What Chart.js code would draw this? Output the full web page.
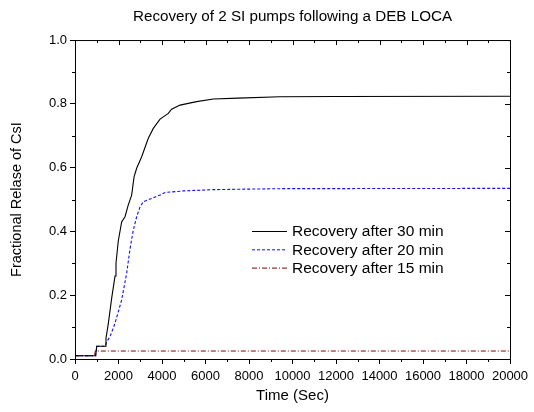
<!DOCTYPE html>
<html>
<head>
<meta charset="utf-8">
<script src="https://cdn.jsdelivr.net/npm/chart.js@4.4.1/dist/chart.umd.min.js"></script>
<style>
  html, body { margin: 0; padding: 0; background: #fff; }
  #wrap { width: 534px; height: 412px; position: relative; }
</style>
</head>
<body>
<div id="wrap"><canvas id="csi"></canvas></div>
<script>
// -------------------------
// Data (time in s, fractional release)
// -------------------------
const labels = ["Recovery after 30 min", "Recovery after 20 min", "Recovery after 15 min"];

const time30 = [0, 950, 1000, 1380, 1425, 1530, 1685, 1840, 1885, 1990, 2145, 2300, 2450, 2605, 2715, 2835, 3065, 3370, 3600, 3910, 4290, 4440, 4830, 5590, 6360, 7500, 9425, 12000, 20000];
const frac30 = [0.01, 0.01, 0.04, 0.04, 0.065, 0.11, 0.19, 0.26, 0.30, 0.37, 0.43, 0.446, 0.483, 0.514, 0.571, 0.598, 0.634, 0.692, 0.723, 0.752, 0.770, 0.783, 0.796, 0.807, 0.815, 0.818, 0.822, 0.823, 0.824];

const time20 = [0, 950, 1000, 1380, 1455, 1610, 1840, 2145, 2375, 2530, 2605, 2680, 2835, 2990, 3140, 3910, 4140, 5000, 6360, 9425, 20000];
const frac20 = [0.01, 0.01, 0.04, 0.04, 0.054, 0.070, 0.112, 0.185, 0.269, 0.345, 0.375, 0.404, 0.446, 0.477, 0.493, 0.514, 0.522, 0.527, 0.531, 0.534, 0.535];

const time15 = [0, 900, 930, 20000];
const frac15 = [0.01, 0.01, 0.025, 0.025];

const xTicks = [0, 2000, 4000, 6000, 8000, 10000, 12000, 14000, 16000, 18000, 20000];
const yTicks = [0.0, 0.2, 0.4, 0.6, 0.8, 1.0];

const FONT = "'Liberation Sans', Arial, sans-serif";

const pts = (t, v) => t.map((x, i) => ({ x, y: v[i] }));

// -------------------------
// Frame, minor ticks, inner ticks on top/right, legend
// -------------------------
const framePlugin = {
  id: "frame",
  afterDraw(chart) {
    const { ctx, chartArea: a, scales: { x, y } } = chart;
    ctx.save();
    ctx.strokeStyle = "#000";
    ctx.lineWidth = 1;
    ctx.strokeRect(a.left + 0.5, a.top + 0.5, a.right - a.left, a.bottom - a.top);

    ctx.beginPath();
    // x: major every 2000, minor every 1000
    for (let v = 0; v <= 20000; v += 1000) {
      const px = Math.round(x.getPixelForValue(v)) + 0.5;
      const major = v % 2000 === 0;
      if (!major) { ctx.moveTo(px, a.bottom); ctx.lineTo(px, a.bottom + 3); }
      ctx.moveTo(px, a.top); ctx.lineTo(px, a.top + (major ? 5 : 3));
    }
    // y: major every 0.2, minor every 0.1
    for (let k = 0; k <= 10; k++) {
      const py = Math.round(y.getPixelForValue(k / 10)) + 0.5;
      const major = k % 2 === 0;
      if (!major) { ctx.moveTo(a.left - 3, py); ctx.lineTo(a.left, py); }
      ctx.moveTo(a.right, py); ctx.lineTo(a.right - (major ? 5 : 3), py);
    }
    ctx.stroke();

    // legend
    const lx = 252, tx = 292;
    let ly = 231;
    ctx.font = "15.5px " + FONT;
    ctx.textBaseline = "middle";
    ctx.fillStyle = "#000";
    chart.data.datasets.forEach(ds => {
      ctx.beginPath();
      ctx.strokeStyle = ds.borderColor;
      ctx.setLineDash(ds.borderDash || []);
      ctx.moveTo(lx, ly + 0.5); ctx.lineTo(lx + 35, ly + 0.5);
      ctx.stroke();
      ctx.setLineDash([]);
      ctx.fillText(ds.label, tx, ly + 1);
      ly += 18.3;
    });
    ctx.restore();
  }
};

new Chart(document.getElementById("csi"), {
  type: "line",
  data: {
    datasets: [
      { label: labels[0], data: pts(time30, frac30), borderColor: "#000000", borderWidth: 1.1 },
      { label: labels[1], data: pts(time20, frac20), borderColor: "#1010ff", borderWidth: 1.1, borderDash: [3, 2] },
      { label: labels[2], data: pts(time15, frac15), borderColor: "#800000", borderWidth: 1, borderDash: [5, 2, 1, 2] }
    ]
  },
  options: {
    responsive: true,
    maintainAspectRatio: false,
    animation: false,
    elements: { point: { radius: 0 }, line: { tension: 0 } },
    layout: { padding: { left: 0, right: 24, top: 0, bottom: 0 } },
    plugins: {
      legend: { display: false },
      tooltip: { enabled: false },
      title: {
        display: true,
        fullSize: false,
        text: "Recovery of 2 SI pumps following a DEB LOCA",
        color: "#000",
        font: { family: FONT, size: 15.2, weight: "normal" },
        padding: { top: 8, bottom: 13.8 }
      }
    },
    scales: {
      x: {
        type: "linear",
        min: 0, max: 20000,
        afterBuildTicks: s => { s.ticks = xTicks.map(v => ({ value: v })); },
        afterFit: s => { s.height = 53; },
        ticks: { color: "#000", font: { family: FONT, size: 13 }, padding: 5, maxRotation: 0, callback: v => String(v) },
        grid: { drawOnChartArea: false, tickLength: 5, color: "#000", tickColor: "#000" },
        border: { color: "#000" },
        title: { display: true, text: "Time (Sec)", color: "#000", font: { family: FONT, size: 15 }, padding: { top: 0, bottom: 7 } }
      },
      y: {
        type: "linear",
        min: 0, max: 1,
        afterBuildTicks: s => { s.ticks = yTicks.map(v => ({ value: v })); },
        afterFit: s => { s.width = 75; },
        ticks: { color: "#000", font: { family: FONT, size: 13 }, padding: 3, callback: v => v.toFixed(1) },
        grid: { drawOnChartArea: false, tickLength: 5, color: "#000", tickColor: "#000" },
        border: { color: "#000" },
        title: { display: true, text: "Fractional Relase of CsI", color: "#000", font: { family: FONT, size: 14.5 }, padding: { top: 8, bottom: 0 } }
      }
    }
  },
  plugins: [framePlugin]
});
</script>
</body>
</html>
